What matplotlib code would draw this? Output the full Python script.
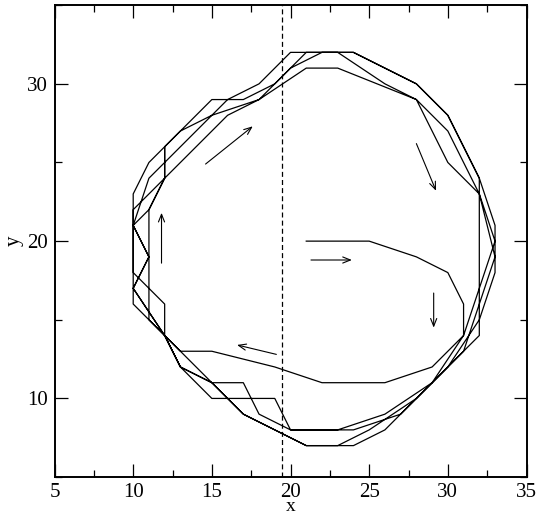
import matplotlib
matplotlib.use("Agg")
from matplotlib import pyplot as plt
from matplotlib.ticker import MultipleLocator

plt.rcParams['font.family'] = ['Liberation Serif', 'DejaVu Serif']

# trajectory on the grid (x, y)
start_x = [21, 25, 28, 30, 31, 31, 29, 26, 22, 19, 15, 13]
start_y = [20, 20, 19, 18, 16, 14, 12, 11, 11, 12, 13, 13]

loop1_x = [12, 11, 11, 12, 14, 16, 18, 21, 23, 28, 30, 32, 33, 32, 31, 29, 26, 23, 20, 19, 15, 13]
loop1_y = [14, 15, 22, 24, 26, 28, 29, 31, 31, 29, 25, 23, 20, 17, 14, 11, 9, 8, 8, 10, 10, 12]

loop2_x = [12, 12, 10, 10, 12, 12, 15, 17, 19, 21, 24, 26, 28, 30, 31, 32, 32, 30, 28, 26, 24, 21, 19, 17, 15, 13]
loop2_y = [14, 16, 18, 22, 24, 26, 29, 29, 30, 32, 32, 31, 30, 28, 26, 24, 14, 12, 10, 8, 7, 7, 8, 9, 11, 12]

loop3_x = [12, 10, 11, 10, 11, 13, 15, 18, 20, 22, 23, 26, 28, 30, 31, 32, 33, 32, 31, 29, 27, 24, 20, 18, 17, 15, 14, 12]
loop3_y = [14, 17, 19, 21, 24, 26, 28, 29, 31, 32, 32, 30, 29, 27, 25, 23, 19, 16, 13, 11, 9, 8, 8, 9, 11, 11, 12, 14]

loop4_x = [10, 10, 11, 13, 15, 16, 18, 20, 22, 24, 26, 28, 30, 31, 32, 33, 33, 32, 30, 28, 25, 23, 21, 19, 17, 15, 13, 12, 10, 11, 10, 11, 12, 12]
loop4_y = [16, 23, 25, 27, 28, 29, 30, 32, 32, 32, 31, 30, 28, 26, 24, 21, 18, 15, 12, 10, 8, 7, 7, 8, 9, 11, 12, 14, 17, 19, 21, 22, 24, 26]

# direction arrows: tail -> head
arrow_tail = [(14.6, 24.9), (28.0, 26.2), (21.3, 18.8), (29.1, 16.7), (19.1, 12.8), (11.8, 18.6)]
arrow_head = [(17.6, 27.3), (29.25, 23.2), (23.9, 18.8), (29.1, 14.5), (16.6, 13.4), (11.8, 21.8)]

wall_x = 19.45

xs = start_x + loop1_x + loop2_x + loop3_x + loop4_x
ys = start_y + loop1_y + loop2_y + loop3_y + loop4_y

fig = plt.figure(figsize=(5.40, 5.18), dpi=100)
ax = fig.add_axes([0.101, 0.079, 0.874, 0.911])

ax.plot(xs, ys, color='black', lw=0.9)
ax.axvline(wall_x, color='black', lw=0.9, ls=(0, (4, 2.5)))

for t, h in zip(arrow_tail, arrow_head):
    ax.annotate('', xy=h, xytext=t,
                arrowprops=dict(arrowstyle='->,head_length=0.55,head_width=0.22',
                                color='black', lw=0.8, shrinkA=0, shrinkB=0))

ax.set_xlim(5, 35)
ax.set_ylim(5, 35)
ax.xaxis.set_major_locator(MultipleLocator(5))
ax.xaxis.set_minor_locator(MultipleLocator(2.5))
ax.yaxis.set_major_locator(MultipleLocator(10))
ax.yaxis.set_minor_locator(MultipleLocator(5))
ax.tick_params(which='both', direction='in', top=True, right=True, width=0.9, labelsize=15)
ax.tick_params(which='major', length=9.5)
ax.tick_params(which='minor', length=4.8)
ax.tick_params(axis='x', pad=4.5)
ax.tick_params(axis='y', pad=4.5)
for s in ax.spines.values():
    s.set_linewidth(1.4)

ax.set_xlabel('x', fontsize=14)
ax.xaxis.set_label_coords(0.5, -0.072)
ax.xaxis.label.set_va('baseline')
ax.set_ylabel('y', fontsize=15, labelpad=3)

fig.savefig('out.png', dpi=100)
